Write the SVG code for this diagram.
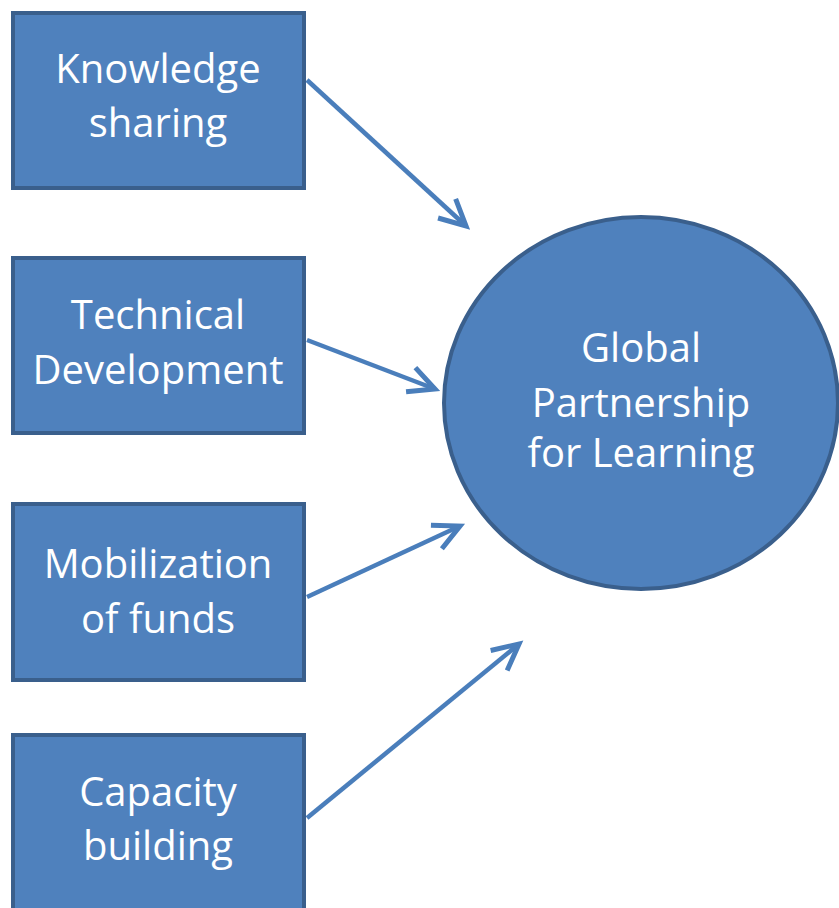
<svg xmlns="http://www.w3.org/2000/svg" width="839" height="908" viewBox="0 0 839 908">
  <style>
    .box { fill: #4f81bd; stroke: #3a5f8c; stroke-width: 4; }
    .lbl { font-family: "Open Sans", "Liberation Sans", sans-serif; font-size: 40px; fill: #ffffff; text-anchor: middle; }
    .conn { fill: none; stroke: #4a7ebb; stroke-width: 4.5; marker-end: url(#arr); }
  </style>
  <defs>
    <marker id="arr" markerUnits="userSpaceOnUse" markerWidth="40" markerHeight="40" viewBox="-32 -20 40 40" refX="0" refY="0" orient="auto">
      <path d="M -26 -13 L 0 0 L -26 13" fill="none" stroke="#4a7ebb" stroke-width="5" stroke-linejoin="miter"/>
    </marker>
  </defs>
  <rect width="839" height="908" fill="#ffffff"/>

  <g id="connectors">
    <line class="conn" x1="307" y1="80" x2="466" y2="226"/>
    <line class="conn" x1="307" y1="340" x2="435" y2="389"/>
    <line class="conn" x1="307" y1="597" x2="460" y2="526"/>
    <line class="conn" x1="307" y1="818" x2="519" y2="644"/>
  </g>

  <g id="knowledge-sharing">
    <rect class="box" x="13" y="13" width="291" height="175"/>
    <text class="lbl" x="158" y="83">Knowledge</text>
    <text class="lbl" x="158" y="137">sharing</text>
  </g>
  <g id="technical-development">
    <rect class="box" x="13" y="258" width="291" height="175"/>
    <text class="lbl" x="158" y="329">Technical</text>
    <text class="lbl" x="158" y="384">Development</text>
  </g>
  <g id="mobilization-of-funds">
    <rect class="box" x="13" y="504" width="291" height="176"/>
    <text class="lbl" x="158" y="578">Mobilization</text>
    <text class="lbl" x="158" y="633">of funds</text>
  </g>
  <g id="capacity-building">
    <rect class="box" x="13" y="735" width="291" height="176"/>
    <text class="lbl" x="158" y="806">Capacity</text>
    <text class="lbl" x="158" y="860">building</text>
  </g>
  <g id="global-partnership">
    <ellipse class="box" cx="641" cy="403" rx="197" ry="186" stroke-width="3"/>
    <text class="lbl" x="641" y="362">Global</text>
    <text class="lbl" x="641" y="417">Partnership</text>
    <text class="lbl" x="641" y="467">for Learning</text>
  </g>
</svg>
